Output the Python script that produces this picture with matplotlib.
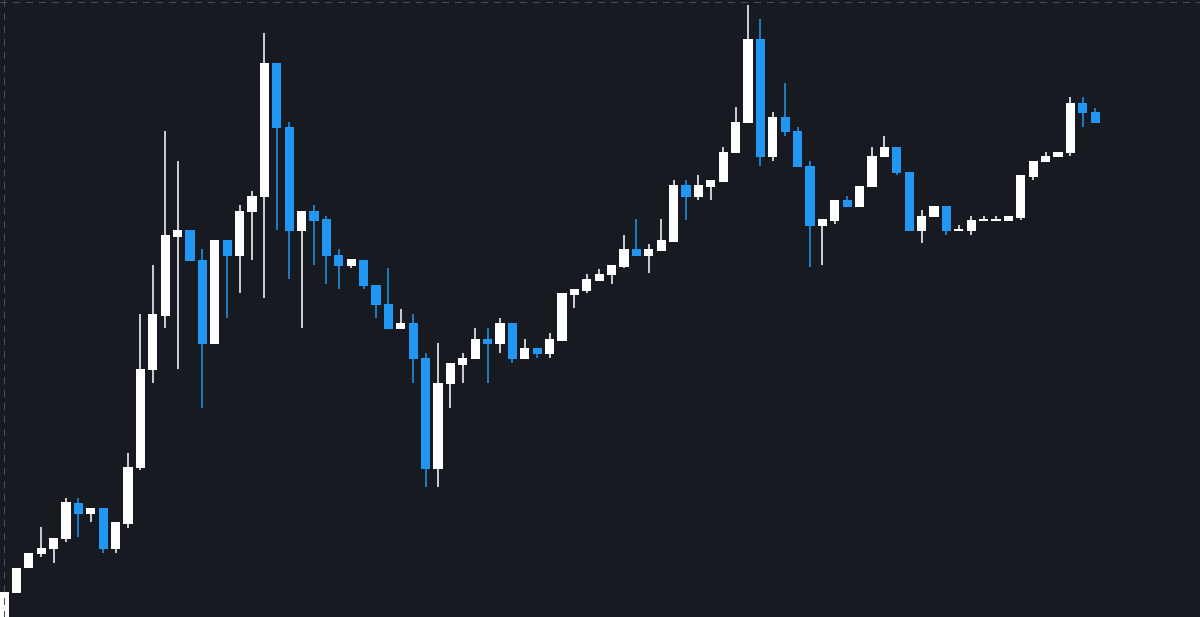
import numpy as np
import matplotlib
matplotlib.use("Agg")
import matplotlib.pyplot as plt
from matplotlib.lines import Line2D

# OHLC values (arbitrary price units)
opens = [-8, 24, 49, 63, 68, 78, 114, 103, 109, 68, 93, 149, 247, 301, 380, 387, 357, 273,
         377, 361, 405, 420, 554, 490, 386, 406, 398, 362, 351, 357, 332, 313, 288, 294,
         259, 148, 233, 252, 258, 278, 273, 294, 258, 269, 263, 276, 322, 326, 336, 342,
         350, 368, 361, 366, 375, 432, 420, 430, 435, 464, 494, 578, 460, 500, 486, 451,
         391, 396, 417, 410, 430, 460, 470, 445, 386, 400, 411, 386, 386, 396, 396, 396,
         399, 440, 455, 460, 464, 514, 505]
highs = [25, 49, 64, 90, 79, 119, 119, 109, 109, 95, 164, 303, 352, 486, 456, 387, 368, 377,
         377, 412, 426, 584, 554, 495, 406, 412, 401, 368, 358, 357, 332, 349, 308, 303,
         264, 274, 254, 264, 289, 289, 299, 294, 278, 269, 284, 324, 328, 343, 348, 352,
         382, 398, 373, 398, 437, 437, 442, 437, 470, 510, 612, 598, 505, 534, 490, 456,
         398, 417, 421, 431, 470, 481, 470, 445, 407, 411, 411, 392, 401, 401, 401, 401,
         442, 456, 465, 465, 520, 520, 509]
lows = [-8, 24, 49, 60, 54, 75, 80, 95, 64, 64, 89, 147, 234, 289, 248, 356, 209, 273,
        299, 324, 357, 319, 387, 338, 289, 352, 333, 328, 349, 328, 299, 288, 288, 234,
        130, 130, 209, 234, 258, 234, 264, 254, 258, 259, 259, 276, 309, 324, 336, 333,
        349, 361, 344, 366, 375, 397, 417, 417, 435, 464, 494, 451, 456, 481, 450, 350,
        352, 393, 410, 410, 430, 460, 442, 386, 374, 400, 382, 386, 382, 396, 396, 396,
        397, 437, 455, 460, 461, 490, 494]
closes = [25, 49, 64, 69, 79, 115, 103, 109, 68, 95, 150, 248, 303, 382, 387, 356, 273, 377,
          361, 406, 421, 554, 489, 386, 406, 396, 361, 351, 358, 331, 312, 288, 294, 258,
          148, 234, 254, 259, 278, 273, 294, 258, 269, 263, 278, 324, 328, 338, 343, 352,
          368, 361, 368, 377, 432, 420, 432, 437, 465, 495, 578, 460, 500, 485, 450, 391,
          398, 417, 410, 431, 461, 470, 444, 386, 401, 411, 386, 388, 397, 398, 398, 401,
          442, 456, 461, 465, 514, 504, 494]

bg = "#171b21"
up_color = "#ffffff"
down_color = "#2196f3"

o = np.array(opens, dtype=float)
h = np.array(highs, dtype=float)
l = np.array(lows, dtype=float)
c = np.array(closes, dtype=float)
x = np.arange(len(o))
colors = np.where(c >= o, up_color, down_color)

fig = plt.figure(figsize=(12, 6.17), dpi=100, facecolor=bg)
ax = fig.add_axes([0, 0, 1, 1])
ax.set_facecolor(bg)

# wicks then bodies
ax.vlines(x, l, h, colors=colors, linewidth=1.1, zorder=2)
body_bottom = np.minimum(o, c)
body_height = np.maximum(np.abs(c - o), 1.5)
ax.bar(x, body_height, bottom=body_bottom, width=0.73, color=colors, linewidth=0, zorder=3)

ax.set_xlim(-4 / 12.4, (1200 - 4) / 12.4)
ax.set_ylim(0, 617)
ax.axis("off")

# dashed frame on the left and top edges
frame_kw = dict(color="#4a4e57", linewidth=0.75, linestyle=(0, (6.7, 6.7)), antialiased=False)
fig.add_artist(Line2D([3.5 / 1200, 3.5 / 1200], [0, 1], transform=fig.transFigure, **frame_kw))
fig.add_artist(Line2D([0, 1], [1 - 1.5 / 617, 1 - 1.5 / 617], transform=fig.transFigure, **frame_kw))

fig.savefig("out.png", dpi=100, facecolor=bg)
